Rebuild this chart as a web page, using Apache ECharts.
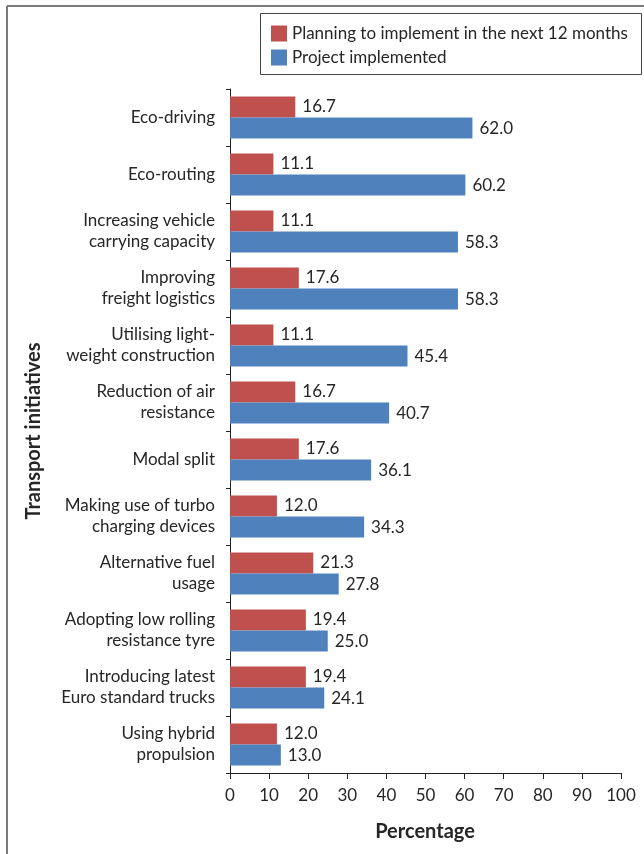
<!DOCTYPE html>
<html>
<head>
<meta charset="utf-8">
<script src="https://cdn.jsdelivr.net/npm/echarts@6/dist/echarts.min.js"></script>
<style>
  html, body { margin: 0; padding: 0; background: #fff; }
  #chart { width: 644px; height: 854px; }
</style>
</head>
<body>
<div id="chart"></div>
<script>
// Transport initiatives, top to bottom
const categories = [
  'Eco-driving',
  'Eco-routing',
  'Increasing vehicle\ncarrying capacity',
  'Improving\nfreight logistics',
  'Utilising light-\nweight construction',
  'Reduction of air\nresistance',
  'Modal split',
  'Making use of turbo\ncharging devices',
  'Alternative fuel\nusage',
  'Adopting low rolling\nresistance tyre',
  'Introducing latest\nEuro standard trucks',
  'Using hybrid\npropulsion'
];
const planningValues = [16.7, 11.1, 11.1, 17.6, 11.1, 16.7, 17.6, 12.0, 21.3, 19.4, 19.4, 12.0];
const implementedValues = [62.0, 60.2, 58.3, 58.3, 45.4, 40.7, 36.1, 34.3, 27.8, 25.0, 24.1, 13.0];
const xTicks = [0, 10, 20, 30, 40, 50, 60, 70, 80, 90, 100];

const FONT = 'Lato';
const TEXT = '#262626';

const chart = echarts.init(document.getElementById('chart'), null, { renderer: 'canvas' });

const labelCfg = {
  show: true,
  position: 'right',
  distance: 7,
  fontFamily: FONT,
  fontSize: 17,
  color: TEXT,
  formatter: p => p.value.toFixed(1)
};

chart.setOption({
  animation: false,
  backgroundColor: '#fff',
  textStyle: { fontFamily: FONT },
  graphic: [
    // outer frame (top and left edges)
    { type: 'line', shape: { x1: 7, y1: 6, x2: 644, y2: 6 }, style: { stroke: '#7a7a7a', lineWidth: 2 } },
    { type: 'line', shape: { x1: 7, y1: 6, x2: 7, y2: 854 }, style: { stroke: '#7a7a7a', lineWidth: 2 } },
    // legend box
    { type: 'rect', shape: { x: 260.5, y: 13.5, width: 381, height: 61 }, style: { fill: '#fff', stroke: '#444', lineWidth: 1 }, z: 0 },
    // axis titles
    { type: 'text', x: 425, y: 832, style: { text: 'Percentage', fontFamily: FONT, fontSize: 20, fontWeight: 'bold', fill: TEXT, textAlign: 'center', textVerticalAlign: 'middle' } },
    { type: 'text', x: 34, y: 431, rotation: Math.PI / 2, style: { text: 'Transport initiatives', fontFamily: FONT, fontSize: 20, fontWeight: 'bold', fill: TEXT, textAlign: 'center', textVerticalAlign: 'middle' } }
  ],
  legend: {
    left: 266,
    top: 20,
    orient: 'vertical',
    itemWidth: 16,
    itemHeight: 16,
    itemGap: 7,
    icon: 'rect',
    textStyle: { fontFamily: FONT, fontSize: 17, color: TEXT, padding: [0, 0, 0, 0] },
    z: 5
  },
  grid: { left: 230, right: 23, top: 89, bottom: 81, containLabel: false },
  xAxis: {
    type: 'value',
    min: 0,
    max: 100,
    interval: 10,
    axisLine: { show: true, lineStyle: { color: '#222', width: 1 } },
    axisTick: { show: true, length: 6, inside: false, lineStyle: { color: '#222' } },
    splitLine: { show: false },
    axisLabel: {
      fontFamily: FONT, fontSize: 17, color: TEXT, margin: 14,
      formatter: v => (xTicks.includes(v) ? String(v) : '')
    }
  },
  yAxis: {
    type: 'category',
    data: categories,
    inverse: true,
    axisLine: { show: true, lineStyle: { color: '#222', width: 1 } },
    axisTick: { show: true, length: 4, lineStyle: { color: '#222' } },
    axisLabel: { fontFamily: FONT, fontSize: 17, color: TEXT, margin: 15, lineHeight: 21, align: 'right' }
  },
  series: [
    {
      name: 'Planning to implement in the next 12 months',
      type: 'bar',
      data: planningValues,
      itemStyle: { color: '#C0504D' },
      barGap: '0%',
      barCategoryGap: '26%',
      label: labelCfg
    },
    {
      name: 'Project implemented',
      type: 'bar',
      data: implementedValues,
      itemStyle: { color: '#4F81BD' },
      barGap: '0%',
      barCategoryGap: '26%',
      label: labelCfg
    }
  ]
});
</script>
</body>
</html>
